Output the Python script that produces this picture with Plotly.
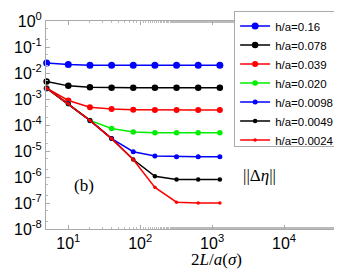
import plotly.graph_objects as go

x_vals = [5, 10, 20, 40, 80, 160, 320, 640, 1280]

h016 = [0.024, 0.021, 0.020, 0.020, 0.020, 0.020, 0.020, 0.020, 0.020]
h0078 = [0.0047, 0.0032, 0.0028, 0.0027, 0.0027, 0.0027, 0.0027, 0.0027, 0.0027]
h0039 = [0.0026, 0.00088, 0.00048, 0.00041, 0.00039, 0.00038, 0.00038, 0.00038, 0.00038]
h0020 = [0.0026, 0.00065, 0.00015, 7.3e-5, 5.4e-5, 5.0e-5, 5.0e-5, 5.0e-5, 5.0e-5]
h00098 = [0.0026, 0.00065, 0.00015, 3.0e-5, 9.4e-6, 6.4e-6, 6.0e-6, 6.0e-6, 6.0e-6]
h00049 = [0.0026, 0.00065, 0.00015, 3.0e-5, 4.7e-6, 1.07e-6, 8.1e-7, 8.0e-7, 8.0e-7]
h00024 = [0.0026, 0.00065, 0.00015, 3.0e-5, 4.7e-6, 4.0e-7, 1.07e-7, 1.0e-7, 1.0e-7]

series = [
    ("h/a=0.16", h016, "#0000ff", 7),
    ("h/a=0.078", h0078, "#000000", 6.5),
    ("h/a=0.039", h0039, "#ff0000", 6),
    ("h/a=0.020", h0020, "#00ee00", 5.5),
    ("h/a=0.0098", h00098, "#0000ff", 5),
    ("h/a=0.0049", h00049, "#000000", 4.5),
    ("h/a=0.0024", h00024, "#ff0000", 3.5),
]

y_exps = [0, -1, -2, -3, -4, -5, -6, -7, -8]
y_tickvals = [10.0 ** k for k in y_exps]
y_ticktext = ["10<sup>%d</sup>" % k for k in y_exps]
x_exps = [1, 2, 3, 4]
x_tickvals = [10.0 ** k for k in x_exps]
x_ticktext = ["10<sup>%d</sup>" % k for k in x_exps]

SANS = "Liberation Sans"
SERIF = "Liberation Serif"

fig = go.Figure()
for name, ys, color, ms in series:
    fig.add_trace(go.Scatter(
        x=x_vals, y=ys, name=name, mode="lines+markers",
        line=dict(color=color, width=1.5),
        marker=dict(color=color, size=ms),
        cliponaxis=False,
    ))

axis_common = dict(
    type="log", showgrid=False, zeroline=False,
    showline=True, linecolor="#aaaaaa", linewidth=1, mirror="ticks",
    ticks="inside", ticklen=4, tickcolor="#aaaaaa",
    minor=dict(ticks="inside", ticklen=2, tickcolor="#bbbbbb"),
    tickfont=dict(family=SANS, size=16, color="#000000"),
    ticklabeloverflow="allow",
)

fig.update_xaxes(range=[0.69, 4.875], tickvals=x_tickvals, ticktext=x_ticktext, **axis_common)
fig.update_yaxes(range=[-8, 0], tickvals=y_tickvals, ticktext=y_ticktext, **axis_common)

fig.update_layout(
    width=342, height=273,
    margin=dict(l=38, r=3, t=10, b=52),
    paper_bgcolor="white", plot_bgcolor="white",
    showlegend=True,
    legend=dict(
        x=0.625, y=1.05, xanchor="left", yanchor="top",
        bgcolor="white", bordercolor="#aaaaaa", borderwidth=1,
        font=dict(family=SANS, size=11.5, color="#000000"),
        tracegroupgap=0, itemwidth=30,
    ),
    annotations=[
        dict(text="2<i>L</i>/<i>a</i>(<i>σ</i>)", xref="paper", yref="paper",
             x=0.565, y=-0.2, showarrow=False,
             font=dict(family=SERIF, size=17, color="#000000")),
        dict(text="(b)", xref="paper", yref="paper", x=0.086, y=0.156, showarrow=False,
             font=dict(family=SERIF, size=17, color="#000000")),
        dict(text="||Δ<i>η</i>||", xref="paper", yref="paper", x=0.771, y=0.204, showarrow=False,
             font=dict(family=SERIF, size=17, color="#000000")),
    ],
)

fig.write_html("out.html")
